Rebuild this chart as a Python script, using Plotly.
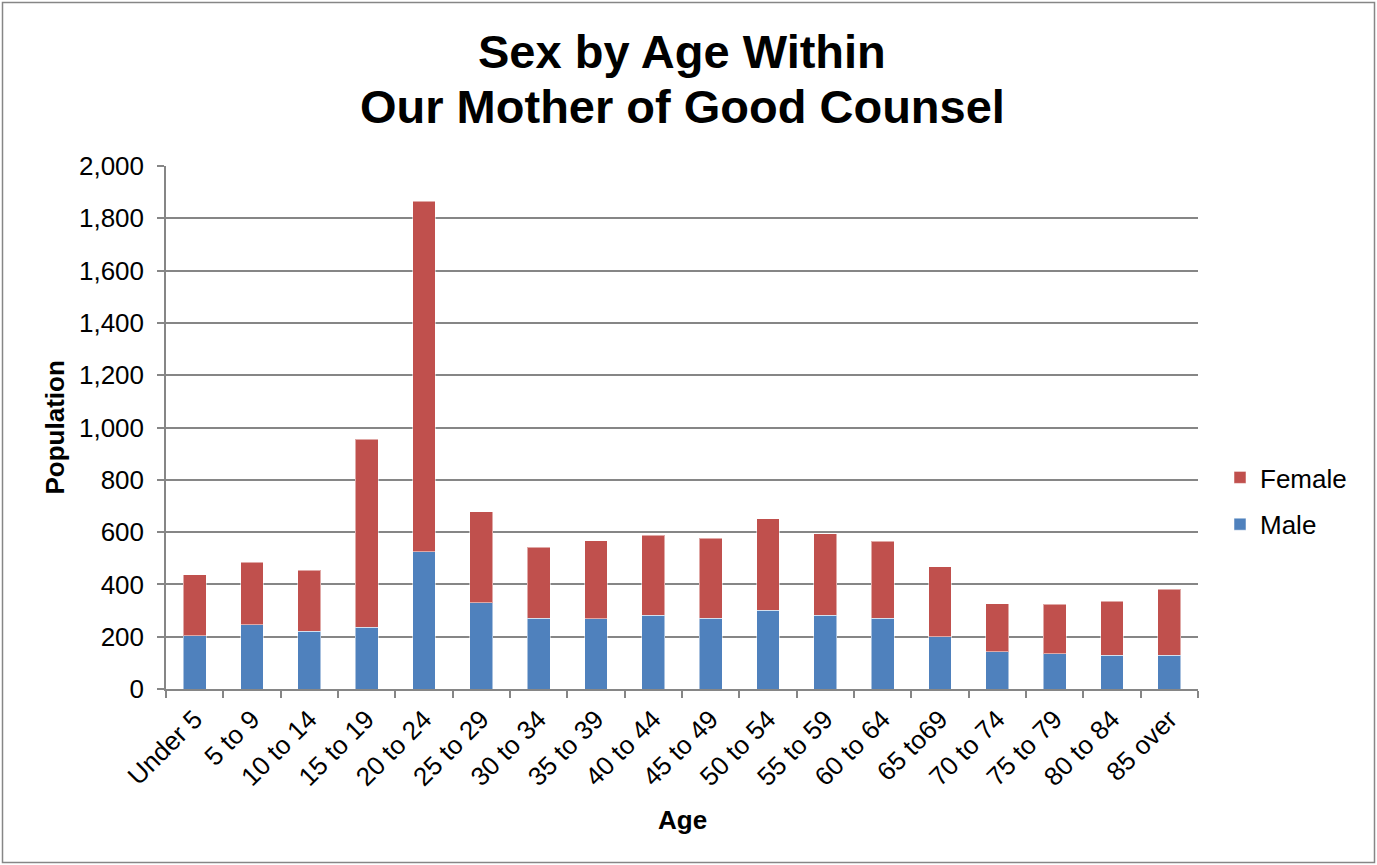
import plotly.graph_objects as go

categories = ["Under 5", "5 to 9", "10 to 14", "15 to 19", "20 to 24", "25 to 29",
              "30 to 34", "35 to 39", "40 to 44", "45 to 49", "50 to 54", "55 to 59",
              "60 to 64", "65 to69", "70 to 74", "75 to 79", "80 to 84", "85 over"]
male = [204, 245, 220, 237, 524, 329, 270, 269, 282, 270, 301, 282, 270, 200, 143, 134, 130, 130]
female = [232, 239, 234, 719, 1342, 349, 273, 297, 306, 306, 350, 312, 295, 267, 183, 191, 205, 251]
y_ticks = [0, 200, 400, 600, 800, 1000, 1200, 1400, 1600, 1800, 2000]

FONT = "Liberation Sans, Arial, sans-serif"
W, H = 1377, 865
ML, MR, MT, MB = 166, 179, 166, 176
pw, ph = W - ML - MR, H - MT - MB
GRAY = "#868686"

def px_x(p):
    return (p - ML) / pw

def px_y(p):
    return (H - MB - p) / ph

fig = go.Figure()
fig.add_trace(go.Bar(x=categories, y=male, name="Male", legendgroup="m", legendrank=2,
                     marker=dict(color="#4F81BD", line=dict(color="rgba(255,255,255,0.5)", width=1))))
fig.add_trace(go.Bar(x=categories, y=female, name="Female", legendgroup="f", legendrank=1,
                     marker=dict(color="#C0504D", line=dict(color="rgba(255,255,255,0.5)", width=1))))

fig.add_shape(type="rect", xref="paper", yref="paper",
              x0=px_x(2.5), x1=px_x(1374.5), y0=px_y(862.5), y1=px_y(2.5),
              line=dict(color=GRAY, width=1.5), fillcolor="rgba(0,0,0,0)", layer="below")

annotations = [
    dict(text="<b>Sex by Age Within</b>", x=0.5, y=px_y(52), xref="paper", yref="paper",
         xanchor="center", yanchor="middle", showarrow=False,
         font=dict(family=FONT, size=47, color="black")),
    dict(text="<b>Our Mother of Good Counsel</b>", x=0.5, y=px_y(107), xref="paper", yref="paper",
         xanchor="center", yanchor="middle", showarrow=False,
         font=dict(family=FONT, size=47, color="black")),
    dict(text="<b>Population</b>", x=px_x(54), y=0.5, xref="paper", yref="paper",
         xanchor="center", yanchor="middle", showarrow=False, textangle=-90,
         font=dict(family=FONT, size=26, color="black")),
    dict(text="<b>Age</b>", x=0.5, y=px_y(820), xref="paper", yref="paper",
         xanchor="center", yanchor="middle", showarrow=False,
         font=dict(family=FONT, size=26, color="black")),
]

fig.update_layout(
    width=W, height=H,
    margin=dict(l=ML, r=MR, t=MT, b=MB, autoexpand=False),
    barmode="stack", bargap=0.6,
    paper_bgcolor="white", plot_bgcolor="white",
    font=dict(family=FONT, color="black", size=26),
    annotations=annotations,
    legend=dict(x=px_x(1220), xanchor="left", y=px_y(501), yanchor="middle",
                traceorder="grouped", tracegroupgap=10,
                font=dict(family=FONT, size=26, color="black"),
                bgcolor="rgba(0,0,0,0)"),
    xaxis=dict(type="category", tickangle=-45, tickfont=dict(family=FONT, size=26),
               showline=True, linecolor=GRAY, linewidth=1.5,
               ticks="outside", ticklen=7, tickcolor=GRAY, tickwidth=1.5,
               tickson="boundaries", showgrid=False, ticklabelstandoff=3),
    yaxis=dict(range=[0, 2000], tickvals=y_ticks, tickformat=",d",
               tickfont=dict(family=FONT, size=26),
               showline=True, linecolor=GRAY, linewidth=1.5,
               ticks="outside", ticklen=7, tickcolor=GRAY, tickwidth=1.5,
               ticklabelstandoff=8,
               showgrid=True, gridcolor=GRAY, gridwidth=1.5, zeroline=False),
)

fig.write_html("out.html", config={"displayModeBar": False},
               post_script="document.body.style.margin='0';document.body.style.overflow='hidden';")
